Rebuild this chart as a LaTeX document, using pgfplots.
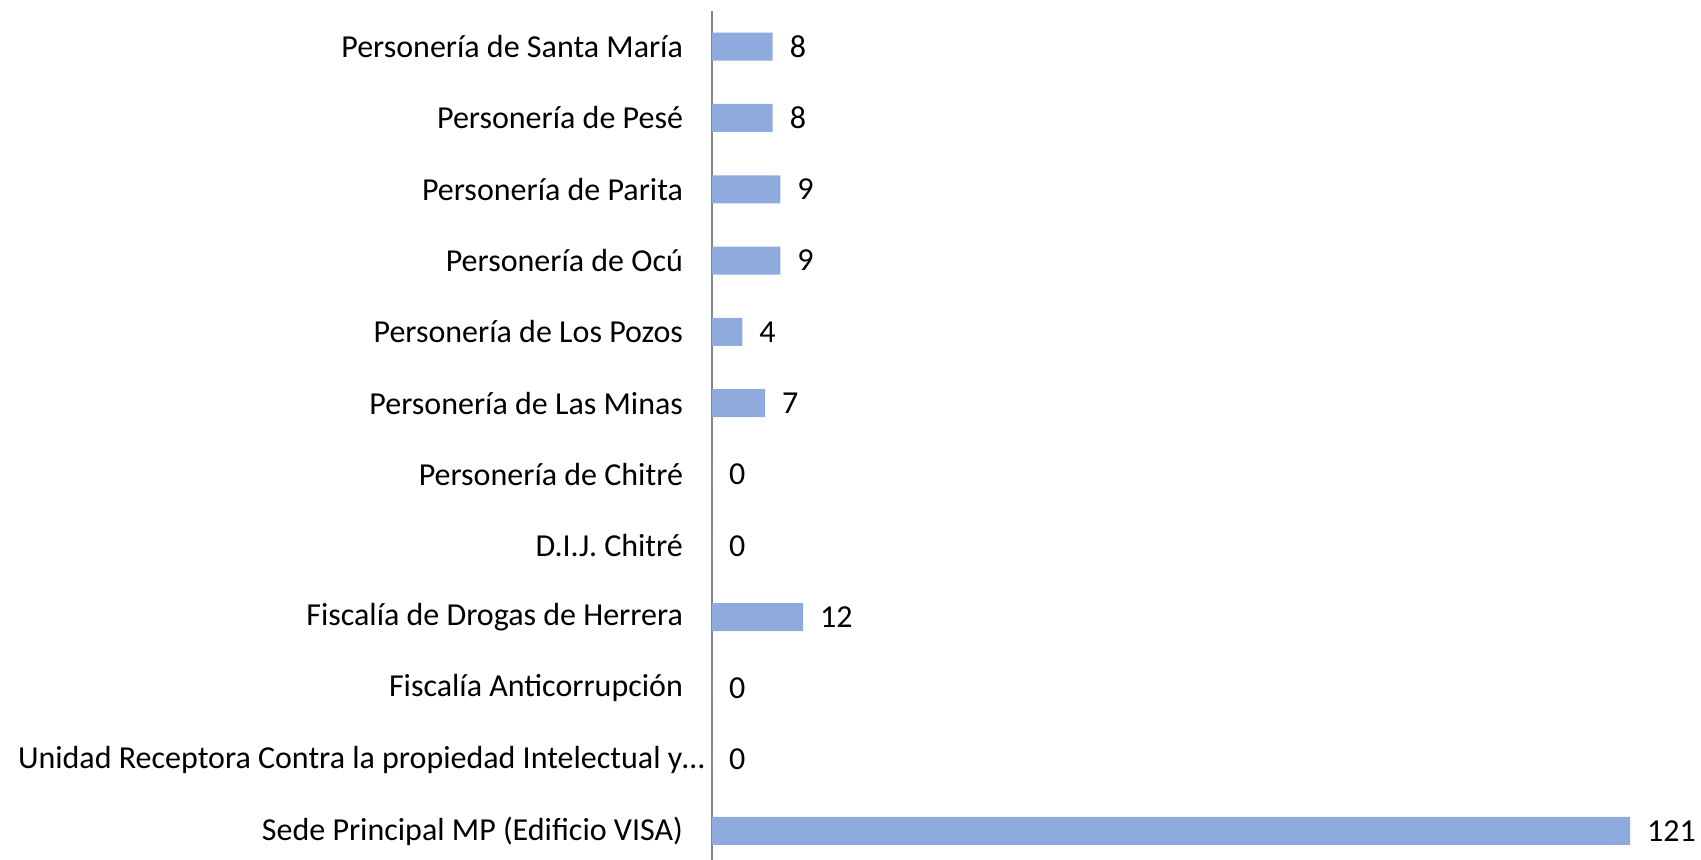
\documentclass[border=0pt]{standalone}
\usepackage{pgfplots}
\pgfplotsset{compat=1.18}
\usepackage{fontspec}
\setmainfont{Carlito}
\definecolor{barblue}{HTML}{8FAADC}
\definecolor{axgray}{HTML}{868686}
\begin{document}
\begin{tikzpicture}
\path[use as bounding box] (0,0) rectangle (850.5pt,429.5pt);
\begin{axis}[
  at={(356pt,-3.8pt)}, anchor=south west,
  scale only axis,
  width=459pt, height=427.8pt,
  xmin=0, xmax=121,
  ymin=-0.5, ymax=11.5,
  xbar, bar width=14pt,
  axis x line=none,
  axis y line*=left,
  y axis line style={axgray, line width=0.6pt, -},
  ytick={0,...,11},
  yticklabels={Sede Principal MP (Edificio VISA),
    Unidad Receptora Contra la propiedad Intelectual y…\kern-10.8pt,
    Fiscalía Anticorrupción,
    Fiscalía de Drogas de Herrera,
    D.I.J. Chitré,
    Personería de Chitré,
    Personería de Las Minas,
    Personería de Los Pozos,
    Personería de Ocú,
    Personería de Parita,
    Personería de Pesé,
    Personería de Santa María},
  major tick length=0pt,
  /pgf/number format/assume math mode=true,
  yticklabel style={font=\fontsize{16}{18}\selectfont, xshift=-11pt, anchor=east},
  nodes near coords,
  nodes near coords style={font=\fontsize{16}{18}\selectfont, anchor=west, xshift=5pt, text=black},
  clip=false,
]
\addplot[fill=barblue, draw=none] coordinates {
  (121,0) (0,1) (0,2) (12,3) (0,4) (0,5) (7,6) (4,7) (9,8) (9,9) (8,10) (8,11)
};
\end{axis}
\end{tikzpicture}
\end{document}
